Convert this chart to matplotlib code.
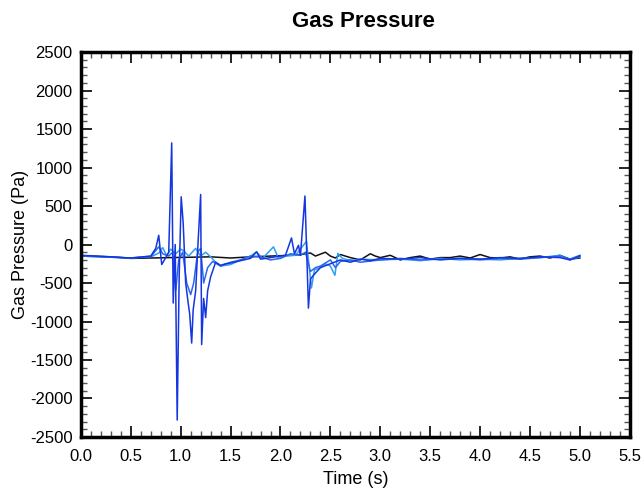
import matplotlib
matplotlib.use('Agg')
import matplotlib.pyplot as plt
from matplotlib.ticker import MultipleLocator

# values (time in s, pressure in Pa)
t_black = [0.0, 0.3, 0.5, 0.7, 0.9, 1.1, 1.3, 1.5, 1.7, 1.9, 2.1, 2.2, 2.3, 2.35, 2.4, 2.45,
           2.5, 2.55, 2.6, 2.7, 2.8, 2.9, 2.95, 3.0, 3.1, 3.2, 3.3, 3.4, 3.5, 3.6, 3.7, 3.8,
           3.9, 4.0, 4.1, 4.2, 4.3, 4.4, 4.5, 4.6, 4.7, 4.8, 4.9, 5.0]
p_black = [-145, -160, -180, -175, -170, -165, -160, -175, -160, -150, -140, -130, -110, -150,
           -125, -100, -150, -175, -130, -170, -200, -120, -150, -170, -140, -200, -170, -150,
           -190, -170, -170, -150, -175, -130, -170, -175, -160, -190, -160, -150, -175, -140,
           -190, -175]

t_dark = [0.0, 0.3, 0.5, 0.7, 0.75, 0.78, 0.81, 0.85, 0.88, 0.91, 0.925, 0.945, 0.965, 0.985,
          1.005, 1.025, 1.05, 1.075, 1.09, 1.11, 1.125, 1.15, 1.175, 1.2, 1.21, 1.23, 1.25,
          1.27, 1.3, 1.35, 1.4, 1.45, 1.5, 1.6, 1.7, 1.76, 1.8, 1.9, 2.0, 2.05, 2.11, 2.14,
          2.18, 2.2, 2.245, 2.265, 2.28, 2.3, 2.33, 2.4, 2.5, 2.6, 2.7, 2.8, 2.9, 3.0, 3.2,
          3.4, 3.6, 3.8, 4.0, 4.2, 4.4, 4.6, 4.8, 4.9, 5.0]
p_dark = [-140, -160, -175, -150, -50, 120, -260, -170, -100, 1320, -760, 0, -2280, -400,
          620, 280, -500, -760, -900, -1280, -850, -600, 50, 650, -1300, -700, -950, -600,
          -420, -230, -270, -250, -240, -210, -180, -95, -190, -170, -150, -140, 85, -120,
          -10, -140, 630, -200, -825, -450, -400, -300, -250, -200, -230, -190, -210, -180,
          -190, -170, -200, -180, -190, -170, -180, -160, -170, -200, -150]

t_mid = [0.0, 0.5, 0.7, 0.78, 0.82, 0.88, 0.92, 0.95, 0.98, 1.02, 1.06, 1.1, 1.13, 1.17,
         1.2, 1.23, 1.27, 1.32, 1.4, 1.5, 1.6, 1.7, 1.8, 1.9, 2.0, 2.1, 2.2, 2.25, 2.3, 2.35,
         2.4, 2.5, 2.55, 2.6, 2.7, 2.8, 3.0, 3.2, 3.4, 3.6, 3.8, 4.0, 4.2, 4.4, 4.6, 4.8,
         4.9, 5.0]
p_mid = [-150, -175, -160, -30, -120, -150, -100, -600, -200, -100, -500, -650, -500, -100,
         -50, -500, -300, -220, -280, -230, -200, -150, -160, -200, -180, -120, -140, -100,
         -350, -300, -280, -200, -300, -220, -200, -230, -200, -180, -200, -190, -180, -200,
         -180, -190, -170, -150, -190, -140]

t_light = [0.0, 0.5, 0.72, 0.78, 0.82, 0.86, 0.9, 0.95, 1.0, 1.03, 1.08, 1.15, 1.2, 1.25,
           1.3, 1.35, 1.4, 1.5, 1.6, 1.7, 1.76, 1.82, 1.93, 1.98, 2.05, 2.15, 2.26, 2.28,
           2.31, 2.34, 2.4, 2.45, 2.5, 2.545, 2.575, 2.62, 2.7, 2.8, 3.0, 3.2, 3.4, 3.6,
           3.8, 4.0, 4.2, 4.4, 4.6, 4.8, 4.9, 5.0]
p_light = [-150, -175, -150, -110, -40, -150, -60, -120, -60, -80, -150, -50, -150, -100,
           -160, -230, -280, -260, -200, -150, -95, -180, -30, -180, -150, -140, 40, -200,
           -565, -330, -300, -250, -280, -400, -115, -180, -210, -190, -200, -190, -210,
           -180, -200, -190, -200, -180, -170, -140, -200, -160]

plt.rcParams['font.family'] = ['Liberation Sans', 'DejaVu Sans']
plt.rcParams['axes.unicode_minus'] = False

fig = plt.figure(figsize=(6.42, 4.91), dpi=100)
ax = fig.add_axes([0.126, 0.110, 0.855, 0.784])

ax.plot(t_black, p_black, color='#111111', lw=1.1)
ax.plot(t_light, p_light, color='#2f9ff0', lw=1.1)
ax.plot(t_mid, p_mid, color='#2a66ee', lw=1.1)
ax.plot(t_dark, p_dark, color='#1436e0', lw=1.1)

ax.set_xlim(0, 5.5)
ax.set_ylim(-2500, 2500)
ax.xaxis.set_major_locator(MultipleLocator(0.5))
ax.xaxis.set_minor_locator(MultipleLocator(0.1))
ax.yaxis.set_major_locator(MultipleLocator(500))
ax.yaxis.set_minor_locator(MultipleLocator(100))
ax.xaxis.set_major_formatter(plt.FuncFormatter(lambda v, p: '%.1f' % v))

ax.tick_params(which='both', direction='in', top=True, right=True, labelsize=12)
ax.tick_params(axis='x', which='major', pad=9)
ax.tick_params(axis='y', which='major', pad=6)
ax.tick_params(which='major', length=8, width=1.2)
ax.tick_params(which='minor', length=4.5, width=1.0, color='#555555')
for s in ax.spines.values():
    s.set_linewidth(2.5)

ax.set_xlabel('Time (s)', fontsize=13, labelpad=5)
ax.set_ylabel('Gas Pressure (Pa)', fontsize=13, labelpad=1)
fig.suptitle('Gas Pressure', fontsize=16, fontweight='bold', x=0.566, y=0.977)

fig.savefig('out.png', dpi=100)
